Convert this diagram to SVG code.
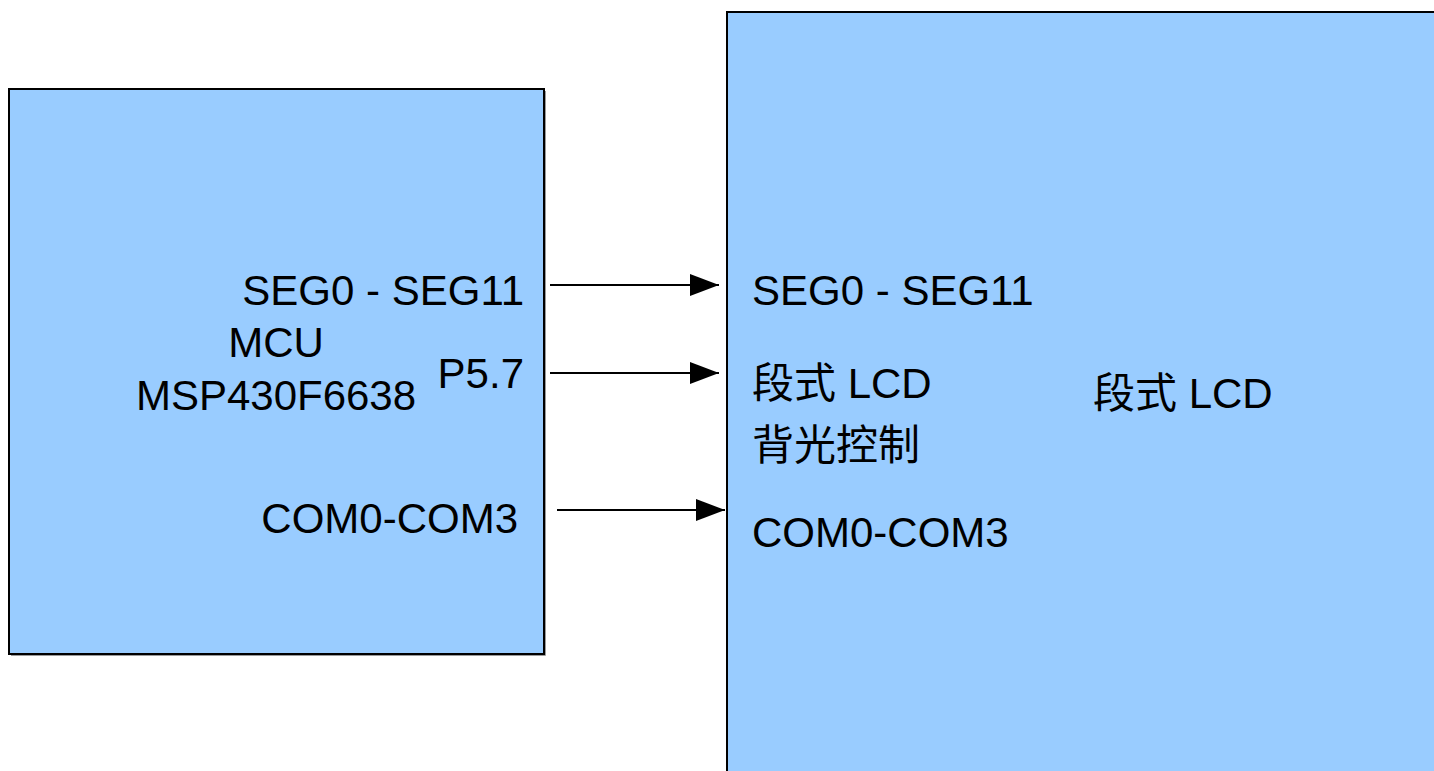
<svg xmlns="http://www.w3.org/2000/svg" width="1434" height="771" viewBox="0 0 1434 771">
  <style>
    .box { fill: #99ccff; stroke: #000; stroke-width: 2; }
    .shadow { fill: none; stroke: #9a9a9a; stroke-width: 1; }
    .t { font-family: "Liberation Sans", Arial, "Noto Sans CJK SC", sans-serif; font-size: 42px; fill: #000; }
    .conn { stroke: #000; stroke-width: 2; fill: none; marker-end: url(#arrow); }
  </style>
  <defs>
    <marker id="arrow" markerUnits="userSpaceOnUse" markerWidth="30" markerHeight="24" refX="29" refY="11" orient="auto">
      <path d="M0,0 L29,11 L0,22 z" fill="#000"/>
    </marker>
  </defs>
  <rect width="1434" height="771" fill="#fff"/>

  <g id="mcu">
    <path class="shadow" d="M11,655.5 H545.5 V91"/>
    <rect class="box" x="9" y="89" width="535" height="565"/>
    <text class="t" x="524" y="305" text-anchor="end">SEG0 - SEG11</text>
    <text class="t" x="276" y="357" text-anchor="middle">MCU</text>
    <text class="t" x="276" y="410" text-anchor="middle">MSP430F6638</text>
    <text class="t" x="524" y="388" text-anchor="end">P5.7</text>
    <text class="t" x="518" y="533" text-anchor="end">COM0-COM3</text>
  </g>

  <g id="lcd">
    <rect class="box" x="727" y="12" width="720" height="770"/>
    <text class="t" x="752" y="305">SEG0 - SEG11</text>
    <text class="t" x="752" y="398">段式 LCD</text>
    <text class="t" x="752" y="460">背光控制</text>
    <text class="t" x="752" y="547">COM0-COM3</text>
    <text class="t" x="1093" y="408">段式 LCD</text>
  </g>

  <g id="connectors">
    <line class="conn" x1="550" y1="285" x2="719" y2="285"/>
    <line class="conn" x1="550" y1="373" x2="719" y2="373"/>
    <line class="conn" x1="557" y1="510" x2="725" y2="510"/>
  </g>
</svg>
